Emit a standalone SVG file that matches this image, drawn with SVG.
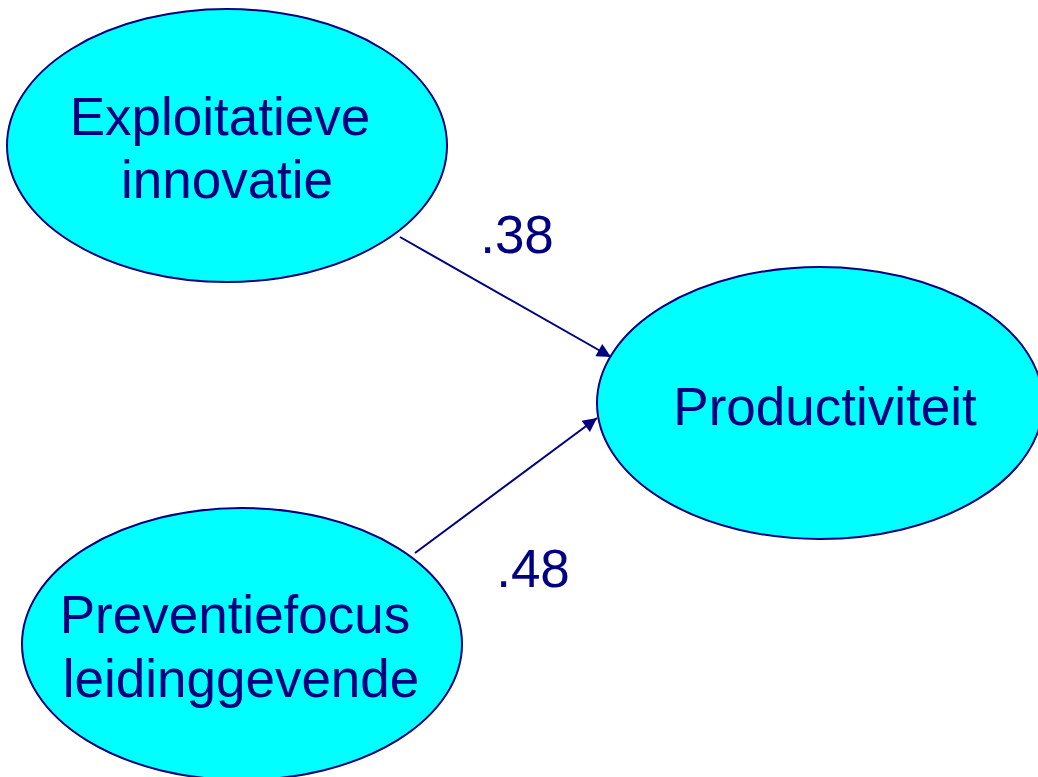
<svg xmlns="http://www.w3.org/2000/svg" width="1038" height="777" viewBox="0 0 1038 777">
<defs>
<style>
.node{fill:#00FFFF;stroke:#000080;stroke-width:2}
.lbl{font-family:"Liberation Sans",Arial,sans-serif;font-size:53px;fill:#000080;text-anchor:middle}
.edge{stroke:#000080;stroke-width:2;fill:none}
</style>
<marker id="arr" viewBox="0 0 10 10" refX="10" refY="5" markerWidth="8" markerHeight="7" markerUnits="strokeWidth" orient="auto">
<path d="M0,0 L10,5 L0,10 z" fill="#000080"/>
</marker>
</defs>
<rect width="1038" height="777" fill="#ffffff"/>
<g id="connectors">
<line class="edge" x1="400" y1="237" x2="611" y2="357" marker-end="url(#arr)"/>
<line class="edge" x1="415" y1="553" x2="597" y2="418" marker-end="url(#arr)"/>
<text class="lbl" x="517" y="253">.38</text>
<text class="lbl" x="533" y="587">.48</text>
</g>
<g id="exploitatieve">
<ellipse class="node" cx="227" cy="145.5" rx="220" ry="136.5"/>
<text class="lbl" x="220" y="135">Exploitatieve</text>
<text class="lbl" x="227" y="198">innovatie</text>
</g>
<g id="productiviteit">
<ellipse class="node" cx="820" cy="403" rx="223" ry="136"/>
<text class="lbl" x="825" y="425">Productiviteit</text>
</g>
<g id="preventiefocus">
<ellipse class="node" cx="242" cy="644" rx="220" ry="136"/>
<text class="lbl" x="235" y="633">Preventiefocus</text>
<text class="lbl" x="241" y="697">leidinggevende</text>
</g>
</svg>
